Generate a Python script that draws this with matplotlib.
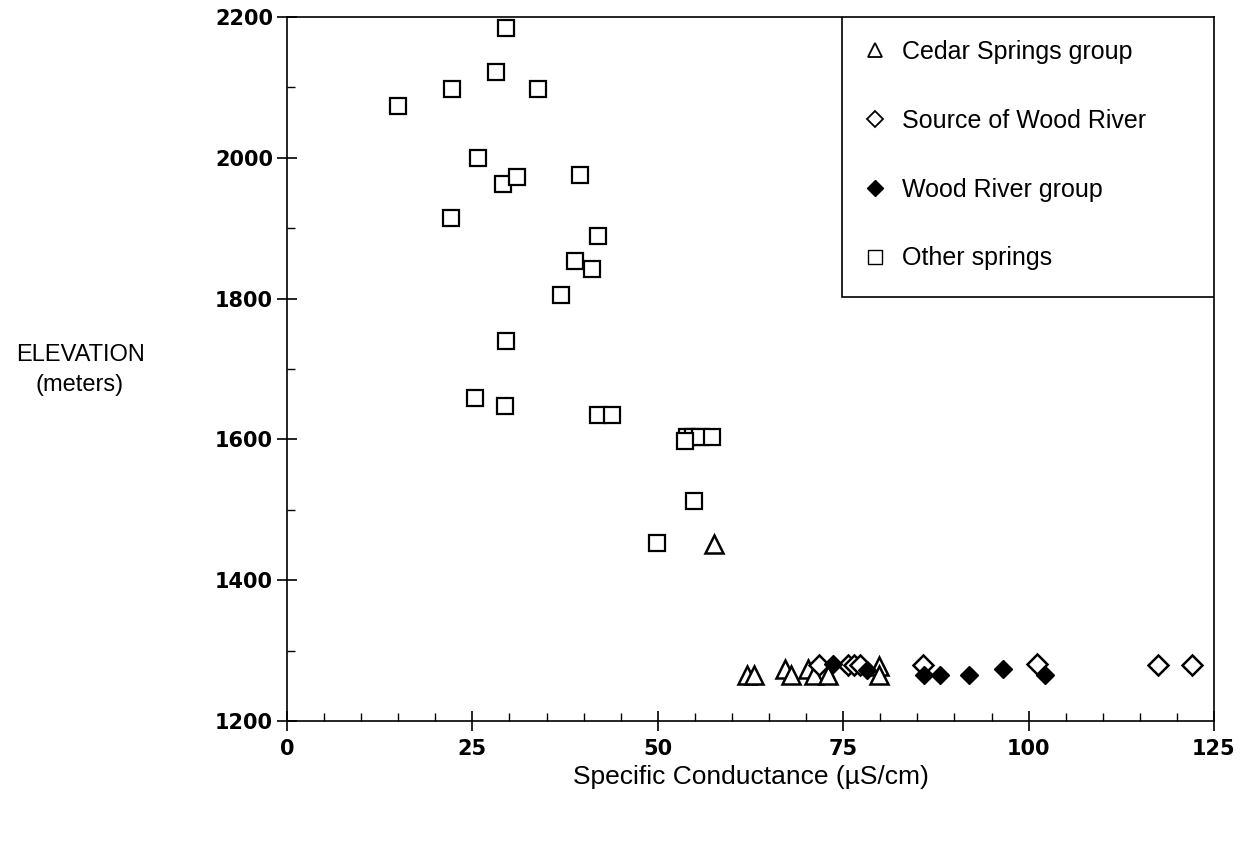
import matplotlib
matplotlib.use("Agg")
import matplotlib.pyplot as plt
from matplotlib.ticker import MultipleLocator
from matplotlib.lines import Line2D
from matplotlib.patches import Rectangle

plt.rcParams['font.family'] = ['Liberation Sans', 'DejaVu Sans']

# Data
other_x = [15.0, 22.2, 28.2, 29.5, 33.8, 25.8, 29.1, 31.0, 39.5, 22.1, 41.9, 38.8,
           41.1, 36.9, 29.5, 25.4, 29.4, 41.9, 43.8, 54.0, 54.8, 55.7, 57.3, 53.7,
           54.9, 49.9]
other_y = [2073, 2098, 2122, 2184, 2098, 2000, 1963, 1973, 1976, 1914, 1889, 1853,
           1842, 1805, 1740, 1659, 1647, 1635, 1635, 1603, 1603, 1603, 1603, 1598,
           1512, 1453]

cedar_x = [57.6, 62.0, 63.0, 67.1, 68.0, 70.2, 71.0, 72.9, 79.8, 79.8]
cedar_y = [1451, 1266, 1266, 1274, 1266, 1274, 1266, 1266, 1278, 1266]

source_x = [71.8, 75.6, 76.5, 77.3, 85.8, 101.2, 117.4, 122.1]
source_y = [1280, 1280, 1280, 1279, 1280, 1281, 1280, 1280]

wood_x = [73.6, 78.2, 85.9, 88.0, 92.0, 96.6, 102.2]
wood_y = [1281, 1273, 1266, 1266, 1266, 1274, 1266]

legend_labels = ["Cedar Springs group", "Source of Wood River",
                 "Wood River group", "Other springs"]

W, H = 1256, 842
L, R, T, B = 287, 1214, 17, 721
fig = plt.figure(figsize=(W / 100, H / 100), dpi=100)
ax = fig.add_axes([L / W, 1 - B / H, (R - L) / W, (B - T) / H])

ax.plot(other_x, other_y, ls='none', marker='s', ms=12, mfc='white', mec='black', mew=1.6)
ax.plot(cedar_x, cedar_y, ls='none', marker='^', ms=13, mfc='white', mec='black', mew=1.8)
ax.plot(source_x, source_y, ls='none', marker='D', ms=10, mfc='white', mec='black', mew=1.8)
ax.plot(wood_x, wood_y, ls='none', marker='D', ms=9, mfc='black', mec='black', mew=1.0)

ax.set_xlim(0, 125)
ax.set_ylim(1200, 2200)
ax.xaxis.set_major_locator(MultipleLocator(25))
ax.xaxis.set_minor_locator(MultipleLocator(5))
ax.yaxis.set_major_locator(MultipleLocator(200))
ax.yaxis.set_minor_locator(MultipleLocator(100))
ax.tick_params(which='major', direction='inout', length=14, width=1.2,
               labelsize=15, pad=3)
ax.tick_params(axis='x', which='major', pad=6)
ax.tick_params(which='minor', direction='in', length=6, width=1.0)
ax.tick_params(top=False, right=False, which='both')
for lab in ax.get_xticklabels() + ax.get_yticklabels():
    lab.set_fontweight('bold')
    lab.set_family(['DejaVu Sans'])
for s in ax.spines.values():
    s.set_linewidth(1.2)

ax.set_xlabel("Specific Conductance (µS/cm)", fontsize=19, labelpad=4)
fig.text(80 / W, 1 - 370 / H, "ELEVATION\n(meters)", ha='center', va='center',
         fontsize=17, linespacing=1.45)

# legend box
bx0 = (842 - L) / (R - L)
by0 = (B - 297) / (B - T)
ax.add_patch(Rectangle((bx0, by0), 1 - bx0, 1 - by0, transform=ax.transAxes,
                       facecolor='white', edgecolor='black', lw=1.2, zorder=4))

handles = [
    Line2D([], [], ls='none', marker='^', ms=10, mfc='white', mec='black', mew=1.3),
    Line2D([], [], ls='none', marker='D', ms=8, mfc='white', mec='black', mew=1.3),
    Line2D([], [], ls='none', marker='D', ms=8, mfc='black', mec='black'),
    Line2D([], [], ls='none', marker='s', ms=10, mfc='white', mec='black', mew=1.0),
]
leg = ax.legend(handles, legend_labels, loc='upper left', bbox_to_anchor=(bx0, 1.0),
                fontsize=18, frameon=False, labelspacing=1.8,
                handlelength=0.8, handletextpad=0.7, borderpad=0.9,
                borderaxespad=0)
leg.set_zorder(5)

fig.savefig("out.png", dpi=100)
